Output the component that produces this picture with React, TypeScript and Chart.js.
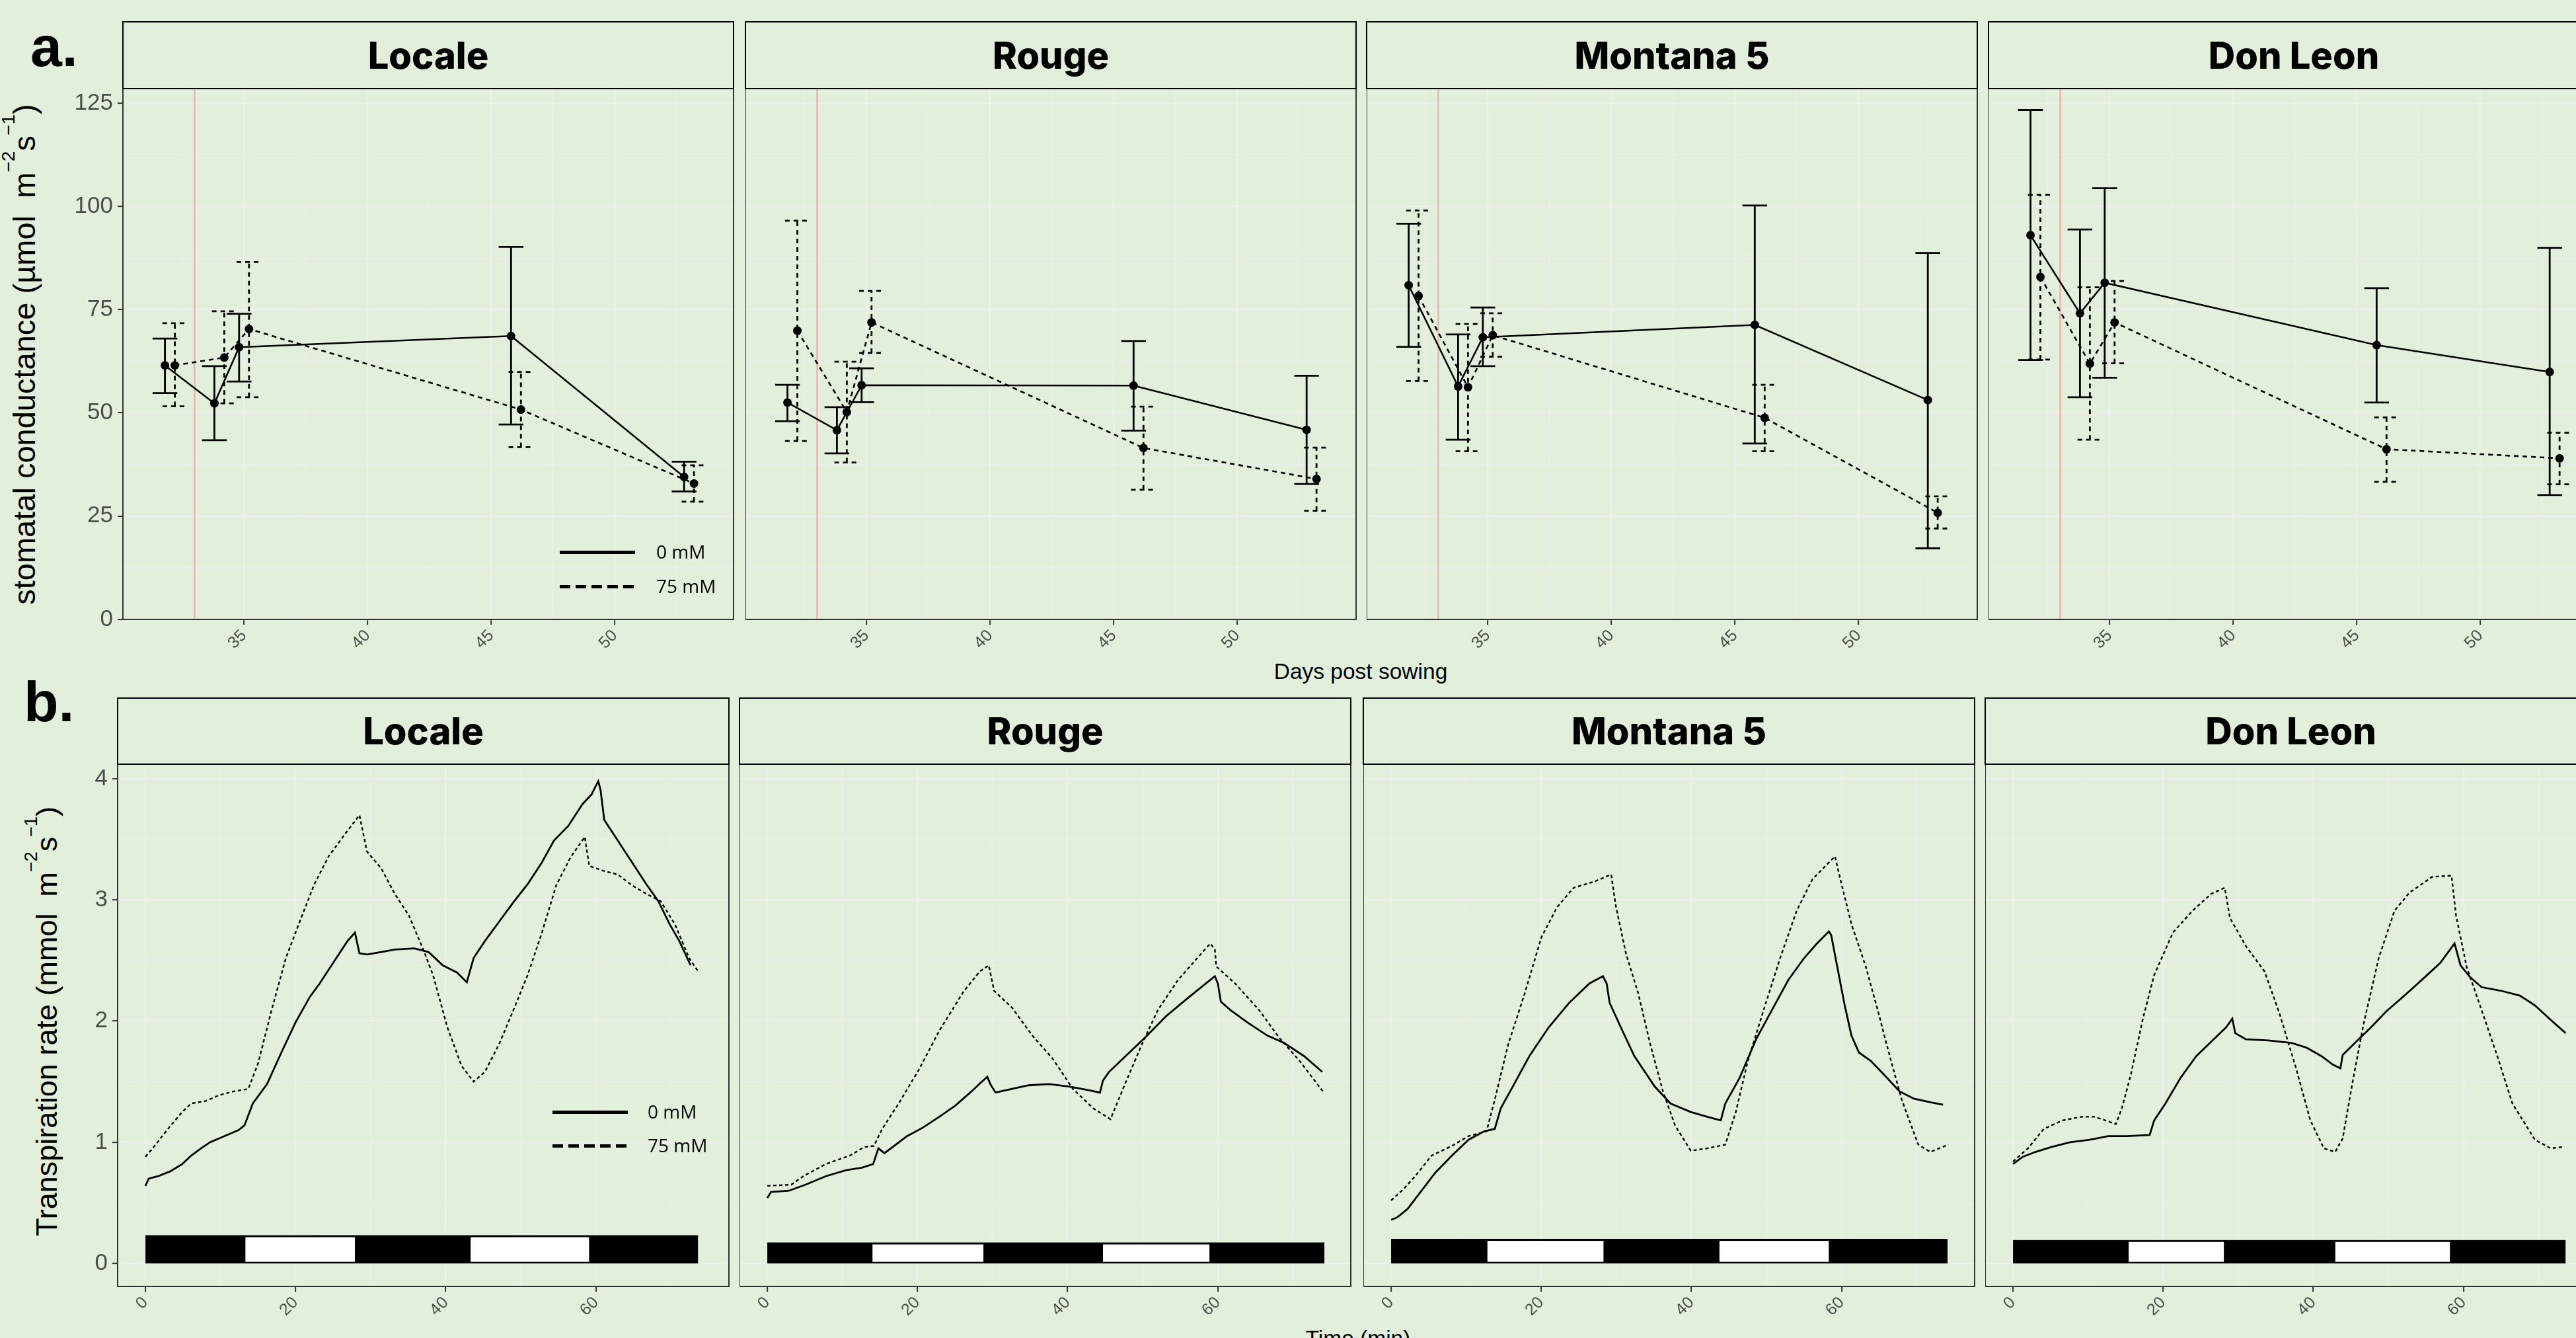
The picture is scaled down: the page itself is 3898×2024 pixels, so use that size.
import React, { useEffect, useRef } from 'react';
import { Chart, registerables } from 'chart.js';

Chart.register(...registerables);
Chart.defaults.font.family = "'Liberation Sans', Arial, sans-serif";

// ---------------- DATA ----------------
const CULTIVARS = ['Locale', 'Rouge', 'Montana 5', 'Don Leon'];
const TREATMENTS = ['0 mM', '75 mM'];
const SAMPLING_DAYS = [32, 34, 35, 46, 53];
const SALT_DAY = 33;

const GS_Y_TICKS = [0, 25, 50, 75, 100, 125];
const GS_X_TICKS = [35, 40, 45, 50];
const TR_Y_TICKS = [0, 1, 2, 3, 4];
const TR_X_TICKS = [0, 20, 40, 60];

// stomatal conductance: mean, lower and upper error bound (µmol m-2 s-1)
const GS_LOCALE_0 = [61.5, 52.3, 65.9, 68.6, 34.5];
const GS_LOCALE_0_LO = [54.8, 43.4, 57.6, 47.2, 31.0];
const GS_LOCALE_0_HI = [68.0, 61.3, 74.0, 90.2, 38.2];
const GS_LOCALE_75 = [61.5, 63.4, 70.3, 50.8, 32.9];
const GS_LOCALE_75_LO = [51.6, 52.3, 53.8, 41.7, 28.5];
const GS_LOCALE_75_HI = [71.7, 74.6, 86.5, 59.9, 37.3];

const GS_ROUGE_0 = [52.5, 45.8, 56.7, 56.6, 45.9];
const GS_ROUGE_0_LO = [48.0, 40.2, 52.6, 45.7, 32.8];
const GS_ROUGE_0_HI = [56.8, 51.4, 60.8, 67.4, 59.0];
const GS_ROUGE_75 = [69.9, 50.2, 71.9, 41.5, 34.0];
const GS_ROUGE_75_LO = [43.2, 38.0, 64.5, 31.4, 26.3];
const GS_ROUGE_75_HI = [96.5, 62.4, 79.5, 51.5, 41.6];

const GS_MONTANA_0 = [80.9, 56.4, 68.3, 71.3, 53.1];
const GS_MONTANA_0_LO = [66.0, 43.5, 61.3, 42.6, 17.2];
const GS_MONTANA_0_HI = [95.8, 69.0, 75.5, 100.2, 88.7];
const GS_MONTANA_75 = [78.3, 56.2, 68.8, 48.8, 25.8];
const GS_MONTANA_75_LO = [57.7, 40.7, 63.6, 40.7, 22.0];
const GS_MONTANA_75_HI = [99.0, 71.5, 74.1, 56.8, 29.8];

const GS_DONLEON_0 = [93.0, 74.1, 81.5, 66.4, 59.9];
const GS_DONLEON_0_LO = [62.8, 53.8, 58.5, 52.5, 30.1];
const GS_DONLEON_0_HI = [123.3, 94.4, 104.4, 80.2, 89.9];
const GS_DONLEON_75 = [82.9, 61.9, 71.9, 41.2, 39.0];
const GS_DONLEON_75_LO = [62.9, 43.5, 62.0, 33.3, 32.7];
const GS_DONLEON_75_HI = [102.8, 80.4, 81.9, 48.9, 45.2];

// transpiration rate time courses: [time (min), rate (mmol m-2 s-1)]
const TR_LOCALE_0: [number, number][] = [[0,0.64],[0.44,0.70],[1.7,0.72],[3.3,0.76],[4.9,0.82],[6.1,0.89],[7.4,0.95],[8.6,1.00],[10.5,1.05],[12.4,1.10],[13.2,1.14],[14.3,1.32],[16.2,1.48],[18.1,1.74],[20,1.99],[21.9,2.20],[23.2,2.31],[25,2.48],[26.9,2.66],[27.9,2.73],[28.5,2.56],[29.5,2.55],[31.4,2.57],[33.2,2.59],[35.8,2.60],[37.7,2.57],[39.6,2.46],[41.5,2.40],[42.8,2.32],[43.7,2.52],[45.2,2.66],[47.1,2.82],[49,2.98],[50.9,3.13],[52.8,3.31],[54.4,3.49],[56.3,3.61],[58.2,3.79],[59.4,3.87],[60.3,3.98],[60.6,3.91],[61.1,3.66],[62.9,3.49],[64.8,3.31],[66.7,3.13],[68.3,2.99],[69.8,2.80],[71.1,2.66],[72.6,2.46]];
const TR_LOCALE_75: [number, number][] = [[0,0.88],[1.1,0.96],[3.0,1.11],[4.9,1.25],[6.1,1.32],[8.0,1.34],[9.9,1.39],[11.8,1.42],[13.7,1.44],[15.0,1.65],[16.8,2.09],[18.7,2.52],[20.6,2.83],[22.5,3.13],[24.4,3.36],[26.3,3.52],[28.5,3.70],[29.5,3.40],[31.4,3.26],[33.2,3.05],[35.1,2.87],[37.0,2.59],[38.3,2.38],[40.2,1.95],[42.1,1.63],[43.7,1.50],[45.2,1.58],[47.1,1.81],[49.0,2.09],[50.9,2.38],[52.8,2.73],[54.7,3.12],[56.6,3.35],[58.5,3.52],[59.1,3.28],[61.0,3.24],[62.9,3.21],[64.8,3.12],[66.7,3.05],[68.6,2.99],[70.5,2.80],[72.4,2.52],[73.6,2.41]];
const TR_ROUGE_0: [number, number][] = [[0,0.54],[0.5,0.59],[2.9,0.60],[5.1,0.65],[7.8,0.72],[10.5,0.77],[12.6,0.79],[14.1,0.82],[14.8,0.95],[15.6,0.91],[16.9,0.97],[18.6,1.05],[20.7,1.12],[22.9,1.21],[25.0,1.30],[27.2,1.42],[28.4,1.49],[29.3,1.54],[29.7,1.48],[30.4,1.41],[32.6,1.44],[34.8,1.47],[37.5,1.48],[40.2,1.46],[42.8,1.43],[44.3,1.41],[44.7,1.51],[45.5,1.58],[47.7,1.71],[50.4,1.87],[53.1,2.04],[55.8,2.18],[58.0,2.29],[59.6,2.37],[60.0,2.31],[60.4,2.16],[61.7,2.09],[63.9,1.99],[66.6,1.88],[68.8,1.82],[71.5,1.71],[73.9,1.58]];
const TR_ROUGE_75: [number, number][] = [[0,0.64],[3.2,0.65],[4.8,0.72],[7.8,0.82],[11.0,0.89],[12.9,0.96],[14.2,0.97],[15.3,1.11],[17.5,1.32],[20.2,1.60],[22.9,1.92],[26.1,2.24],[28.3,2.41],[29.5,2.46],[30.2,2.25],[32.6,2.11],[35.3,1.88],[38.0,1.69],[40.7,1.44],[43.4,1.28],[45.7,1.19],[47.7,1.49],[49.9,1.81],[52.0,2.09],[54.7,2.34],[57.4,2.53],[59.0,2.64],[59.6,2.59],[59.8,2.45],[62.3,2.31],[65.5,2.09],[68.2,1.86],[70.9,1.67],[74.1,1.41]];
const TR_MONTANA_0: [number, number][] = [[0,0.36],[0.8,0.38],[2.2,0.45],[3.8,0.58],[5.9,0.75],[8.1,0.89],[10.3,1.02],[12.4,1.09],[13.8,1.11],[14.6,1.28],[16.2,1.46],[18.4,1.71],[21.0,1.95],[23.7,2.15],[26.4,2.31],[28.2,2.37],[28.7,2.31],[29.1,2.15],[30.8,1.92],[32.4,1.71],[35.1,1.46],[37.2,1.32],[39.9,1.25],[42.1,1.21],[43.9,1.18],[44.5,1.32],[46.4,1.53],[48.6,1.85],[50.7,2.09],[52.9,2.34],[55.0,2.52],[56.7,2.64],[58.3,2.74],[58.6,2.71],[59.4,2.45],[60.4,2.13],[61.3,1.88],[62.3,1.74],[63.9,1.67],[65.6,1.56],[67.7,1.42],[69.6,1.36],[71.8,1.33],[73.5,1.31]];
const TR_MONTANA_75: [number, number][] = [[0,0.52],[1.6,0.61],[3.2,0.72],[5.4,0.89],[8.1,0.97],[10.3,1.05],[12.7,1.09],[13.8,1.35],[15.6,1.81],[17.8,2.23],[20.0,2.69],[22.1,2.94],[24.3,3.10],[27.0,3.15],[29.3,3.21],[29.95,2.94],[31.3,2.55],[32.9,2.23],[34.5,1.81],[36.2,1.42],[37.8,1.14],[39.9,0.93],[42.1,0.95],[44.5,0.98],[45.9,1.25],[47.5,1.67],[49.6,2.09],[51.8,2.52],[54.0,2.91],[56.1,3.17],[59.1,3.36],[59.9,3.15],[61.3,2.80],[63.2,2.45],[64.8,2.09],[66.4,1.71],[68.0,1.35],[70.2,0.98],[71.8,0.92],[74.2,0.98]];
const TR_DONLEON_0: [number, number][] = [[0,0.82],[1.3,0.88],[3.0,0.92],[5.1,0.96],[7.6,1.00],[10.2,1.02],[12.7,1.05],[15.2,1.05],[18.2,1.06],[18.8,1.18],[20.3,1.32],[22.3,1.53],[24.4,1.71],[26.4,1.83],[28.4,1.95],[29.2,2.02],[29.6,1.90],[31.0,1.85],[34.0,1.84],[37.1,1.82],[39.1,1.78],[41.1,1.71],[42.6,1.64],[43.6,1.61],[43.9,1.72],[45.7,1.83],[47.7,1.95],[49.7,2.08],[52.3,2.22],[54.8,2.36],[56.9,2.48],[58.8,2.64],[59.6,2.46],[60.9,2.36],[62.4,2.28],[65.0,2.25],[67.5,2.21],[69.5,2.13],[71.6,2.01],[73.6,1.90]];
const TR_DONLEON_75: [number, number][] = [[0,0.84],[2.0,0.95],[4.1,1.11],[6.6,1.18],[9.1,1.21],[10.9,1.21],[13.7,1.15],[14.5,1.28],[15.7,1.56],[17.3,2.02],[18.8,2.38],[21.3,2.73],[23.9,2.91],[26.4,3.05],[28.2,3.10],[28.9,2.85],[31.0,2.62],[33.5,2.41],[35.5,2.06],[37.6,1.63],[39.6,1.18],[41.4,0.95],[42.9,0.92],[43.9,1.03],[45.2,1.49],[46.7,1.98],[48.7,2.52],[50.8,2.91],[52.8,3.06],[55.8,3.19],[58.4,3.20],[59.0,2.87],[60.4,2.45],[62.4,2.09],[64.5,1.71],[66.5,1.32],[69.5,1.02],[71.6,0.95],[73.1,0.96]];

// dark / light phase boundaries (min): dark, light, dark, light, dark
const LIGHT_LOCALE = [0, 13.3, 27.9, 43.3, 59.1, 73.6];
const LIGHT_ROUGE = [0, 14.0, 28.8, 44.7, 58.9, 74.2];
const LIGHT_MONTANA = [0, 12.8, 28.3, 43.7, 58.3, 74.1];
const LIGHT_DONLEON = [0, 15.4, 28.1, 42.9, 58.2, 73.6];
const LIGHT_BAR_TOP = [0.23, 0.17, 0.2, 0.19];

// ---------------- TABLES ----------------
const GS_MEAN = [[GS_LOCALE_0, GS_LOCALE_75], [GS_ROUGE_0, GS_ROUGE_75], [GS_MONTANA_0, GS_MONTANA_75], [GS_DONLEON_0, GS_DONLEON_75]];
const GS_LO = [[GS_LOCALE_0_LO, GS_LOCALE_75_LO], [GS_ROUGE_0_LO, GS_ROUGE_75_LO], [GS_MONTANA_0_LO, GS_MONTANA_75_LO], [GS_DONLEON_0_LO, GS_DONLEON_75_LO]];
const GS_HI = [[GS_LOCALE_0_HI, GS_LOCALE_75_HI], [GS_ROUGE_0_HI, GS_ROUGE_75_HI], [GS_MONTANA_0_HI, GS_MONTANA_75_HI], [GS_DONLEON_0_HI, GS_DONLEON_75_HI]];
const TR = [[TR_LOCALE_0, TR_LOCALE_75], [TR_ROUGE_0, TR_ROUGE_75], [TR_MONTANA_0, TR_MONTANA_75], [TR_DONLEON_0, TR_DONLEON_75]];
const LIGHT = [LIGHT_LOCALE, LIGHT_ROUGE, LIGHT_MONTANA, LIGHT_DONLEON];

// ---------------- STYLE / LAYOUT ----------------
const BG = '#E2EFDA';
const GRID = '#EEEEEE';
const AXIS = '#333333';
const TICK_TEXT = '#4D4D4D';
const DODGE = 0.2;
const CAP = 0.5;
const PAD = 2;

const GS_PLOT_LEFT = [186, 1128, 2068, 3009];
const GS_PLOT_W = 924;
const GS_PLOT_TOP = 134;
const GS_PLOT_H = 803;
const GS_STRIP_TOP = 32;
const GS_RANGE = { xMin: 30.1, xMax: 54.8, yMin: 0, yMax: 128.5 };

const TR_PLOT_LEFT = [178, 1119, 2063, 3004];
const TR_PLOT_W = 925;
const TR_PLOT_TOP = 1156;
const TR_PLOT_H = 790;
const TR_STRIP_TOP = 1055;
const TR_RANGE = { xMin: -3.7, xMax: 77.7, yMin: -0.19, yMax: 4.12 };

function midTicks(major: number[], min: number, max: number) {
  const step = major[1] - major[0];
  const out: number[] = [];
  for (let v = major[0] - step / 2; v <= max + 1e-9; v += step) if (v >= min) out.push(v);
  return out.filter((v) => !major.some((m) => Math.abs(m - v) < 1e-6));
}

function errData(xs: number[], lo: number[], hi: number[]) {
  const out: any[] = [];
  xs.forEach((x, i) => {
    out.push({ x, y: lo[i] }, { x, y: hi[i] }, { x, y: null });
    out.push({ x: x - CAP, y: hi[i] }, { x: x + CAP, y: hi[i] }, { x, y: null });
    out.push({ x: x - CAP, y: lo[i] }, { x: x + CAP, y: lo[i] }, { x, y: null });
  });
  return out;
}

const framePlugin = {
  id: 'frame',
  afterDraw(chart: any) {
    const { ctx, chartArea: a } = chart;
    ctx.save();
    ctx.strokeStyle = AXIS;
    ctx.lineWidth = 2;
    ctx.strokeRect(a.left, a.top, a.right - a.left, a.bottom - a.top);
    ctx.restore();
  },
};

type Spec = {
  yW: number; xH: number; plotW: number; plotH: number;
  range: { xMin: number; xMax: number; yMin: number; yMax: number };
  xMajor: number[]; yMajor: number[]; showY: boolean; datasets: any[];
};

function buildConfig(p: Spec): any {
  const { xMin, xMax, yMin, yMax } = p.range;
  const xMinor = midTicks(p.xMajor, xMin, xMax);
  const yMinor = midTicks(p.yMajor, yMin, yMax);
  const isX = (v: number) => p.xMajor.some((m) => Math.abs(m - v) < 1e-6);
  const isY = (v: number) => p.yMajor.some((m) => Math.abs(m - v) < 1e-6);
  return {
    type: 'line',
    data: { datasets: p.datasets },
    plugins: [framePlugin],
    options: {
      responsive: false,
      animation: false,
      devicePixelRatio: 1,
      events: [],
      layout: { autoPadding: false, padding: { top: PAD, right: PAD, left: 0, bottom: 0 } },
      plugins: { legend: { display: false }, tooltip: { enabled: false } },
      scales: {
        x: {
          type: 'linear', min: xMin, max: xMax,
          afterBuildTicks: (s: any) => { s.ticks = [...p.xMajor, ...xMinor].sort((a, b) => a - b).map((v) => ({ value: v })); },
          afterFit: (s: any) => { s.height = p.xH; s.paddingLeft = 0; s.paddingRight = 0; },
          border: { display: false },
          grid: {
            color: GRID,
            lineWidth: (c: any) => (c.tick && isX(c.tick.value) ? 2.2 : 1.1),
            drawTicks: true, tickLength: 8, tickWidth: 2,
            tickColor: (c: any) => (c.tick && isX(c.tick.value) ? AXIS : 'rgba(0,0,0,0)'),
          },
          ticks: {
            autoSkip: false, minRotation: 45, maxRotation: 45, padding: 2,
            color: TICK_TEXT, font: { size: 25 },
            callback: (v: any) => (isX(Number(v)) ? String(v) : ''),
          },
        },
        y: {
          type: 'linear', min: yMin, max: yMax,
          afterBuildTicks: (s: any) => { s.ticks = [...p.yMajor, ...yMinor].sort((a, b) => a - b).map((v) => ({ value: v })); },
          afterFit: (s: any) => { s.width = p.yW; s.paddingTop = 0; s.paddingBottom = 0; },
          border: { display: false },
          grid: {
            color: GRID,
            lineWidth: (c: any) => (c.tick && isY(c.tick.value) ? 2.2 : 1.1),
            drawTicks: p.showY, tickLength: 8, tickWidth: 2,
            tickColor: (c: any) => (c.tick && isY(c.tick.value) ? AXIS : 'rgba(0,0,0,0)'),
          },
          ticks: {
            display: p.showY, autoSkip: false, padding: 7,
            color: TICK_TEXT, font: { size: 35 },
            callback: (v: any) => (isY(Number(v)) ? String(v) : ''),
          },
        },
      },
    },
  };
}

function gsDatasets(col: number) {
  const xs0 = SAMPLING_DAYS.map((d) => d - DODGE);
  const xs75 = SAMPLING_DAYS.map((d) => d + DODGE);
  const [m0, m75] = GS_MEAN[col];
  const [l0, l75] = GS_LO[col];
  const [h0, h75] = GS_HI[col];
  const dash = [7, 6];
  return [
    { label: TREATMENTS[0], data: xs0.map((x, i) => ({ x, y: m0[i] })), borderColor: '#000', borderWidth: 2.6, pointRadius: 6.5, pointBackgroundColor: '#000', pointBorderWidth: 0, order: 1 },
    { label: TREATMENTS[1], data: xs75.map((x, i) => ({ x, y: m75[i] })), borderColor: '#000', borderWidth: 2.6, borderDash: dash, pointRadius: 6.5, pointBackgroundColor: '#000', pointBorderWidth: 0, order: 2 },
    { label: 'err0', data: errData(xs0, l0, h0), borderColor: '#000', borderWidth: 2.8, pointRadius: 0, order: 3 },
    { label: 'err75', data: errData(xs75, l75, h75), borderColor: '#000', borderWidth: 2.8, borderDash: dash, pointRadius: 0, order: 4 },
    { label: 'salt', data: [{ x: SALT_DAY, y: GS_RANGE.yMin }, { x: SALT_DAY, y: GS_RANGE.yMax }], borderColor: '#F5AFAF', borderWidth: 2.5, pointRadius: 0, order: 10 },
  ];
}

function trDatasets(col: number) {
  const [s0, s75] = TR[col];
  const e = LIGHT[col];
  const top = LIGHT_BAR_TOP[col];
  const inset = 0.013;
  return [
    { label: TREATMENTS[0], data: s0.map(([x, y]) => ({ x, y })), borderColor: '#000', borderWidth: 2.8, pointRadius: 0, order: 1 },
    { label: TREATMENTS[1], data: s75.map(([x, y]) => ({ x, y })), borderColor: '#000', borderWidth: 2.4, borderDash: [5, 4], pointRadius: 0, order: 2 },
    { label: 'dark', data: [{ x: e[0], y: top }, { x: e[5], y: top }], fill: { value: 0 }, backgroundColor: '#000', borderColor: '#000', borderWidth: 1, pointRadius: 0, order: 20 },
    { label: 'light1', data: [{ x: e[1], y: top - inset }, { x: e[2], y: top - inset }], fill: { value: inset }, backgroundColor: '#FFFFFF', borderColor: 'rgba(0,0,0,0)', borderWidth: 0, pointRadius: 0, order: 19 },
    { label: 'light2', data: [{ x: e[3], y: top - inset }, { x: e[4], y: top - inset }], fill: { value: inset }, backgroundColor: '#FFFFFF', borderColor: 'rgba(0,0,0,0)', borderWidth: 0, pointRadius: 0, order: 18 },
  ];
}

function ChartPanel({ left, top, spec }: { left: number; top: number; spec: Spec }) {
  const ref = useRef<HTMLCanvasElement>(null);
  const w = spec.yW + spec.plotW + PAD;
  const h = PAD + spec.plotH + spec.xH;
  useEffect(() => {
    const chart = new Chart(ref.current as HTMLCanvasElement, buildConfig(spec));
    return () => chart.destroy();
  }, []);
  return (
    <canvas ref={ref} width={w} height={h}
      style={{ position: 'absolute', left: left - spec.yW, top: top - PAD, width: w, height: h }} />
  );
}

function Strip({ left, top, width, height, text }: { left: number; top: number; width: number; height: number; text: string }) {
  return (
    <div style={{
      position: 'absolute', left, top, width, height, boxSizing: 'border-box', border: '2px solid #000',
      display: 'flex', alignItems: 'center', justifyContent: 'center',
      fontFamily: 'Inter, sans-serif', fontWeight: 800, fontSize: 56, color: '#000', background: BG,
    }}>{text}</div>
  );
}

function Legend({ left, y0, y1, textLeft }: { left: number; y0: number; y1: number; textLeft: number }) {
  const txt = { position: 'absolute' as const, left: textLeft, fontFamily: "'Open Sans', sans-serif", fontSize: 28, lineHeight: '28px', color: '#000', whiteSpace: 'nowrap' as const };
  return (
    <>
      <div style={{ position: 'absolute', left, top: y0 - 2.5, width: 114, height: 5, background: '#000' }} />
      <div style={{ position: 'absolute', left, top: y1 - 2.5, width: 114, height: 5, background: 'repeating-linear-gradient(to right, #000 0px, #000 16px, transparent 16px, transparent 24px)' }} />
      <div style={{ ...txt, top: y0 - 15 }}>{TREATMENTS[0]}</div>
      <div style={{ ...txt, top: y1 - 15 }}>{TREATMENTS[1]}</div>
    </>
  );
}

function YTitle({ cx, cy, main, unit, size }: { cx: number; cy: number; main: string; unit: string; size: number }) {
  const sup = { position: 'relative' as const, top: -0.67 * size, fontSize: 0.6 * size };
  return (
    <div style={{
      position: 'absolute', left: cx, top: cy, transform: 'translate(-50%, -50%) rotate(-90deg)',
      fontFamily: "'Liberation Sans', Arial, sans-serif", fontSize: size, lineHeight: `${size}px`, whiteSpace: 'nowrap', color: '#000',
    }}>
      {main} ({unit}{'\u00a0\u00a0'}m<span style={sup}>{'\u22122'}</span>s<span style={sup}>{'\u22121'}</span>)
    </div>
  );
}

export default function App() {
  const gsSpec = (col: number): Spec => ({
    yW: col === 0 ? 80 : 0, xH: 60, plotW: GS_PLOT_W, plotH: GS_PLOT_H, range: GS_RANGE,
    xMajor: GS_X_TICKS, yMajor: GS_Y_TICKS, showY: col === 0, datasets: gsDatasets(col),
  });
  const trSpec = (col: number): Spec => ({
    yW: col === 0 ? 60 : 0, xH: 60, plotW: TR_PLOT_W, plotH: TR_PLOT_H, range: TR_RANGE,
    xMajor: TR_X_TICKS, yMajor: TR_Y_TICKS, showY: col === 0, datasets: trDatasets(col),
  });
  const axisTitle = { position: 'absolute' as const, fontFamily: "'Liberation Sans', Arial, sans-serif", fontSize: 33.5, lineHeight: '33.5px', color: '#000', whiteSpace: 'nowrap' as const, transform: 'translateX(-50%)' };
  return (
    <div style={{ position: 'relative', width: 3898, height: 2024, overflow: 'hidden', background: BG }}>
      <style>{'html,body{margin:0;padding:0;overflow:hidden;background:#E2EFDA}'}</style>

      <div style={{ position: 'absolute', left: 46, top: 27, fontFamily: "'Liberation Sans', Arial, sans-serif", fontWeight: 700, fontSize: 86, lineHeight: '86px' }}>a.</div>
      <div style={{ position: 'absolute', left: 36, top: 1018, fontFamily: "'Liberation Sans', Arial, sans-serif", fontWeight: 700, fontSize: 86, lineHeight: '86px' }}>b.</div>

      {CULTIVARS.map((name, col) => (
        <React.Fragment key={'gs' + name}>
          <ChartPanel left={GS_PLOT_LEFT[col]} top={GS_PLOT_TOP} spec={gsSpec(col)} />
          <Strip left={GS_PLOT_LEFT[col] - 1} top={GS_STRIP_TOP} width={GS_PLOT_W + 2} height={GS_PLOT_TOP - GS_STRIP_TOP + 1} text={name} />
        </React.Fragment>
      ))}
      {CULTIVARS.map((name, col) => (
        <React.Fragment key={'tr' + name}>
          <ChartPanel left={TR_PLOT_LEFT[col]} top={TR_PLOT_TOP} spec={trSpec(col)} />
          <Strip left={TR_PLOT_LEFT[col] - 1} top={TR_STRIP_TOP} width={TR_PLOT_W + 2} height={TR_PLOT_TOP - TR_STRIP_TOP + 1} text={name} />
        </React.Fragment>
      ))}

      <Legend left={847} y0={835} y1={887} textLeft={993} />
      <Legend left={836} y0={1682} y1={1733} textLeft={980} />

      <YTitle cx={40} cy={536} main="stomatal conductance" unit={'\u00b5mol'} size={47} />
      <YTitle cx={74} cy={1545} main="Transpiration rate" unit="mmol" size={45} />

      <div style={{ ...axisTitle, left: 2059, top: 999 }}>Days post sowing</div>
      <div style={{ ...axisTitle, left: 2055, top: 2008 }}>Time (min)</div>
    </div>
  );
}
